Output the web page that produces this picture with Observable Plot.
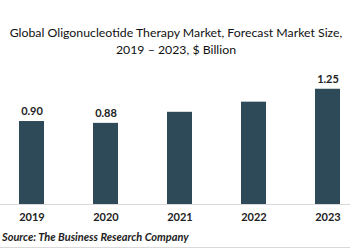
<!DOCTYPE html>
<html>
<head>
<meta charset="utf-8">
<script src="https://cdn.jsdelivr.net/npm/d3@7"></script>
<script src="https://cdn.jsdelivr.net/npm/@observablehq/plot@0.6"></script>
<style>
  html, body { margin: 0; padding: 0; background: #fff; }
  body { width: 350px; height: 250px; overflow: hidden; position: relative; font-family: Lato, "Open Sans", sans-serif; }
  #title { position: absolute; top: 24px; left: 176px; transform: translateX(-50%); white-space: nowrap; text-align: center; font-size: 12.3px; line-height: 17px; color: #111; }
  #source { position: absolute; top: 230px; left: 2px; white-space: nowrap; font-size: 11px; font-style: italic; font-weight: bold; color: #222; }
  #bottomline { position: absolute; left: 0; top: 247px; width: 350px; height: 1px; background: #d9d9d9; }
  #chart { position: absolute; left: 0; top: 0; }
</style>
</head>
<body>
<div id="chart"></div>
<div id="title">Global Oligonucleotide Therapy Market, Forecast Market Size,<br>2019 – 2023, $ Billion</div>
<div id="source">Source: The Business Research Company</div>
<div id="bottomline"></div>
<script>
const years = ["2019", "2020", "2021", "2022", "2023"];
const values = [0.90, 0.88, 1.00, 1.11, 1.25];
const labels = ["0.90", "0.88", null, null, "1.25"];

const data = years.map((y, i) => ({year: y, value: values[i], label: labels[i]}));

const chart = Plot.plot({
  width: 350,
  height: 250,
  marginTop: 0,
  marginBottom: 46,
  marginLeft: 17.5,
  marginRight: 9.1,
  style: {fontFamily: "Lato, 'Open Sans', sans-serif", background: "transparent"},
  x: {domain: years, paddingInner: 0.665, paddingOuter: 0, label: null},
  y: {domain: [0, 2.2126], axis: null},
  marks: [
    Plot.barY(data, {x: "year", y: "value", fill: "#2e4a58"}),
    Plot.ruleY([0], {stroke: "#d9d9d9", insetLeft: -17.5, insetRight: -9.1}),
    Plot.text(data.filter(d => d.label), {x: "year", y: "value", text: "label", dy: -10, fontSize: 11, fontWeight: "bold", fill: "#222"}),
    Plot.axisX({tickSize: 0, tickPadding: 9, fontSize: 11, fontWeight: "bold", color: "#222", label: null})
  ]
});
document.getElementById("chart").appendChild(chart);

// keep the title within the 350px frame
const t = document.getElementById("title");
const w = t.getBoundingClientRect().width;
if (w > 344) {
  t.style.fontSize = (12.3 * 344 / w).toFixed(2) + "px";
}
</script>
</body>
</html>
